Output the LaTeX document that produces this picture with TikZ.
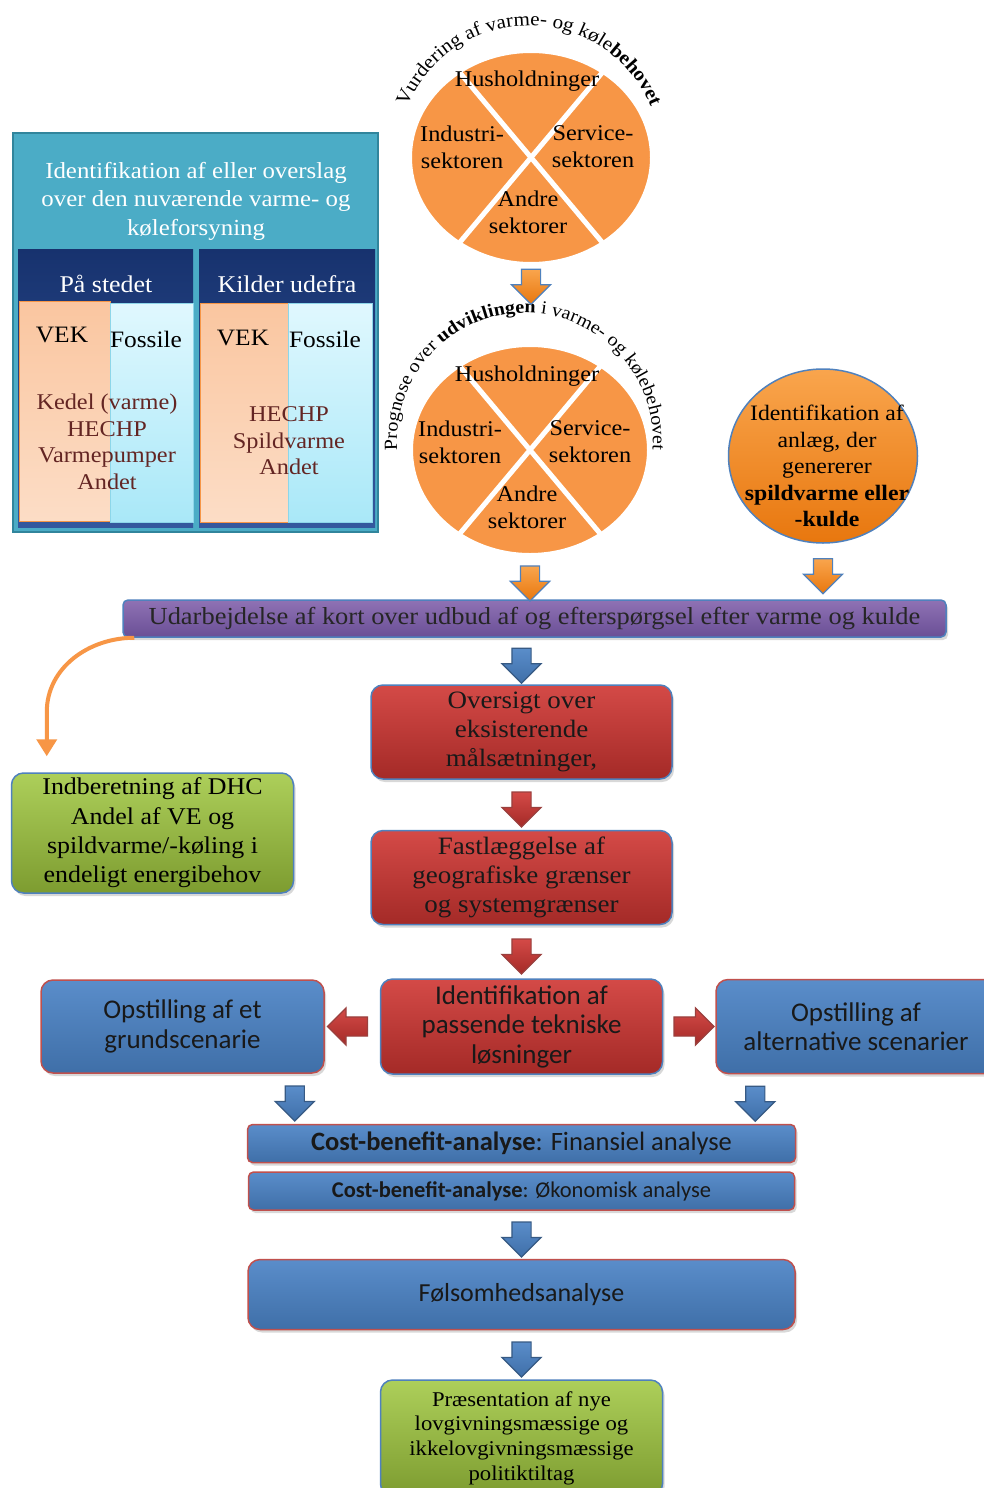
\documentclass[tikz,border=0pt]{standalone}
\usepackage{fontspec}
\setmainfont{Liberation Serif}[FakeStretch=1.08]
\newfontfamily\calibri{Carlito}
\usetikzlibrary{positioning, calc, shapes.geometric, shapes.arrows, decorations.text, shadows, arrows.meta}

\definecolor{tealpanel}{HTML}{4BACC6}
\definecolor{tealline}{HTML}{31859C}
\definecolor{navytop}{HTML}{17326E}
\definecolor{navybot}{HTML}{34589E}
\definecolor{peach}{HTML}{FAC6A0}
\definecolor{peachlight}{HTML}{FCDDC6}
\definecolor{icetop}{HTML}{E0F8FE}
\definecolor{icebot}{HTML}{A9E8F8}
\definecolor{sectororange}{HTML}{F79646}
\definecolor{wine}{HTML}{632523}
\definecolor{linkblue}{HTML}{4F81BD}
\definecolor{orangetop}{HTML}{F9A54D}
\definecolor{orangebot}{HTML}{E8770E}
\definecolor{purpletop}{HTML}{8F72B4}
\definecolor{purplebot}{HTML}{6A4F96}
\definecolor{redtop}{HTML}{D44A47}
\definecolor{redbot}{HTML}{A42A27}
\definecolor{redline}{HTML}{C0504D}
\definecolor{greentop}{HTML}{ADCF5A}
\definecolor{greenbot}{HTML}{7D9C30}
\definecolor{bluetop}{HTML}{5A8DCA}
\definecolor{bluebot}{HTML}{3F6FA8}

\newcommand{\ringfont}{\fontsize{19.5}{19.5}\selectfont}
\newcommand{\ringfontsmall}{\fontsize{18.5}{18.5}\selectfont}

\tikzset{
every node/.style={align=center, inner sep=0pt}, % nodes hug their text
panel/.style={rectangle, fill=tealpanel, draw=tealline, line width=2.5pt},
subpanel/.style={rectangle, top color=navytop, bottom color=navybot, minimum height=278pt},
vekcol/.style={rectangle, top color=peach, bottom color=peachlight, draw=sectororange, line width=1pt, minimum height=220pt},
fossilcol/.style={rectangle, top color=icetop, bottom color=icebot, draw=icebot!70!tealpanel, line width=1pt, minimum height=219pt},
paneltext/.style={text=white, font=\fontsize{23}{28.5}\selectfont},
headtext/.style={text=white, font=\fontsize{24}{28}\selectfont},
coltext/.style={font=\fontsize{23.5}{28}\selectfont},
listtext/.style={text=wine, font=\fontsize{22.5}{26.5}\selectfont},
sector/.style={ellipse, fill=sectororange, draw=white, line width=5pt}, % the two demand wheels
sectortext/.style={font=\fontsize{22.5}{27}\selectfont},
waste/.style={ellipse, top color=orangetop, bottom color=orangebot, draw=linkblue, line width=1.5pt},
wastetext/.style={font=\fontsize{22}{26.5}\selectfont},
flowbox/.style={rectangle, rounded corners=12pt, line width=1.5pt, drop shadow={opacity=0.3, shadow xshift=2pt, shadow yshift=-3pt}},
mapbar/.style={flowbox, rounded corners=5pt, draw=linkblue, top color=purpletop, bottom color=purplebot, text=black!85, font=\fontsize{24.5}{27}\selectfont},
redbox/.style={flowbox, draw=linkblue, top color=redtop, bottom color=redbot, text=black!90},
greenbox/.style={flowbox, draw=linkblue, top color=greentop, bottom color=greenbot},
bluebox/.style={flowbox, draw=redline, top color=bluetop, bottom color=bluebot, text=black!90},
serifbox/.style={font=\fontsize{25}{29}\selectfont},
sansbox/.style={font=\calibri\fontsize{27}{29.5}\selectfont},
downarrow/.style={single arrow, shape border rotate=270, minimum height=35pt, inner sep=9pt, single arrow head extend=10pt, line width=1.2pt},
orangedown/.style={downarrow, draw=linkblue, top color=orangetop, bottom color=orangebot},
bluedown/.style={downarrow, draw=linkblue!70!black, top color=bluetop, bottom color=bluebot},
reddown/.style={downarrow, draw=redline!80!black, top color=redtop, bottom color=redbot},
redside/.style={single arrow, minimum height=40pt, inner sep=9pt, single arrow head extend=9pt, line width=1.2pt, draw=redline!80!black, top color=redtop, bottom color=redbot},
redleft/.style={redside, shape border rotate=180},
bendarrow/.style={draw=sectororange, line width=4pt, -{Triangle[width=20pt, length=17pt]}},
}

\begin{document}
\begin{tikzpicture}[x=1pt, y=-1pt]
  \useasboundingbox (0,0) rectangle (984,1488);
  \fill[white] (0,0) rectangle (984,1488);

  % current supply
  \node[panel, minimum width=365pt, minimum height=399pt] (supply) at (195.5,332.5) {};
  \node[paneltext] (supplytitle) at (196,201) {Identifikation af eller overslag\\over den nuværende varme- og\\køleforsyning};
  \node[subpanel, minimum width=175pt] (onsite) at (105.5,388) {};
  \node[subpanel, minimum width=176pt] (external) at (287,388) {};
  \node[headtext] (onsitehead) at (106,284) {På stedet};
  \node[headtext] (externalhead) at (287,284) {Kilder udefra};
  \node[vekcol, minimum width=91pt] (onsitevek) at (64.5,411) {};
  \node[fossilcol, minimum width=83pt] (onsitefossil) at (151.5,412.5) {};
  \node[vekcol, minimum width=88pt, minimum height=219pt] (externalvek) at (244,412.5) {};
  \node[fossilcol, minimum width=84pt] (externalfossil) at (330,412.5) {};
  \node[coltext] (onsitevektext) at (62,335) {VEK};
  \node[coltext] (onsitefossiltext) at (146,339) {Fossile};
  \node[coltext] (externalvektext) at (243,338) {VEK};
  \node[coltext] (externalfossiltext) at (325,339) {Fossile};
  \node[listtext] (onsitelist) at (107,442) {Kedel (varme)\\HECHP\\Varmepumper\\Andet};
  \node[listtext] (externallist) at (289,441) {HECHP\\Spildvarme\\Andet};

  % demand wheels
  \node[sector, minimum width=243pt, minimum height=214pt] (demand) at (531,157.5) {};
  \draw[white, line width=5pt] (demand.130) -- (demand.310) (demand.50) -- (demand.230);
  \node[sectortext] (demandhome) at (527,81) {Husholdninger};
  \node[sectortext] (demandindustry) at (462,147) {Industri-\\sektoren};
  \node[sectortext] (demandservice) at (593,147) {Service-\\sektoren};
  \node[sectortext] (demandother) at (528,212) {Andre\\sektorer};
  \path[decorate, decoration={text along path, text align=center,
    text={|\ringfont|Vurdering af varme- og køle|\ringfont\bfseries|behovet}}]
    ([xshift=-2pt]demand.center) ++(166:132pt) arc[start angle=166, end angle=14, radius=132pt];

  \node[sector, minimum width=239pt, minimum height=211pt] (forecast) at (530,450) {};
  \draw[white, line width=5pt] (forecast.130) -- (forecast.310) (forecast.50) -- (forecast.230);
  \node[sectortext] (forecasthome) at (527,376) {Husholdninger};
  \node[sectortext] (forecastindustry) at (460,442) {Industri-\\sektoren};
  \node[sectortext] (forecastservice) at (590,442) {Service-\\sektoren};
  \node[sectortext] (forecastother) at (527,507) {Andre\\sektorer};
  \path[decorate, decoration={text along path, text align=center,
    text={|\ringfontsmall|Prognose over |\ringfontsmall\bfseries|udviklingen|\ringfontsmall| i varme- og kølebehovet}}]
    ([xshift=-5pt, yshift=9pt]forecast.center) ++(187:128pt) arc[start angle=187, end angle=-7, radius=128pt];

  \node[waste, minimum width=189pt, minimum height=174pt] (waste) at (823,456) {};
  \node[wastetext] (wastetext) at (827,466) {Identifikation af\\anlæg, der\\genererer\\\textbf{spildvarme eller}\\\textbf{-kulde}};

  % flow
  \node[mapbar, minimum width=823pt, minimum height=37pt] (heatmap) at (534.5,618.5) {Udarbejdelse af kort over udbud af og efterspørgsel efter varme og kulde};
  \node[greenbox, font=\fontsize{24}{29.3}\selectfont, minimum width=282pt, minimum height=120pt] (report) at (152.5,833) {Indberetning af DHC\\Andel af VE og\\spildvarme/-køling i\\endeligt energibehov};
  \node[redbox, serifbox, minimum width=301pt, minimum height=94pt] (targets) at (521.5,732) {Oversigt over\\eksisterende\\målsætninger,};
  \node[redbox, serifbox, minimum width=301pt, minimum height=94pt, below=50pt of targets] (borders) {Fastlæggelse af\\geografiske grænser\\og systemgrænser};
  \node[redbox, sansbox, minimum width=282pt, minimum height=95pt, below=53pt of borders] (tech) {Identifikation af\\passende tekniske\\løsninger};
  \node[bluebox, sansbox, minimum width=283pt, minimum height=93pt, left=55pt of tech] (base) {Opstilling af et\\grundscenarie};
  \node[bluebox, sansbox, minimum width=280pt, minimum height=94pt, right=52pt of tech] (alternative) {Opstilling af\\alternative scenarier};
  \node[bluebox, rounded corners=5pt, font=\calibri\fontsize{26.5}{28}\selectfont, minimum width=548pt, minimum height=38pt, below=49pt of tech] (financial) {\textbf{Cost-benefit-analyse}: Finansiel analyse};
  \node[bluebox, rounded corners=5pt, font=\calibri\fontsize{22.5}{24}\selectfont, minimum width=546pt, minimum height=38pt, below=8pt of financial] (economic) {\textbf{Cost-benefit-analyse}: Økonomisk analyse};
  \node[bluebox, font=\calibri\fontsize{26}{29}\selectfont, minimum width=547pt, minimum height=70pt, below=48pt of economic] (sensitivity) {Følsomhedsanalyse};
  \node[greenbox, font=\fontsize{21}{24.7}\selectfont, minimum width=282pt, minimum height=116pt, below=49pt of sensitivity] (policy) {Præsentation af nye\\lovgivningsmæssige og\\ikkelovgivningsmæssige\\politiktiltag};

  % block arrows
  \node[orangedown] (demandarrow) at (531,282) {};
  \path (forecast.south) -- (forecast.south |- heatmap.north) node[midway, orangedown] (forecastarrow) {};
  \path (waste.south) -- (waste.south |- heatmap.north) node[midway, orangedown] (wastearrow) {};
  \path (heatmap.south -| targets.north) -- (targets.north) node[midway, bluedown] (maparrow) {};
  \path (targets) -- (borders) node[midway, reddown] (targetsarrow) {};
  \path (borders) -- (tech) node[midway, reddown] (bordersarrow) {};
  \path (tech) -- (base) node[midway, redleft] (basearrow) {};
  \path (tech) -- (alternative) node[midway, redside] (alternativearrow) {};
  \path ([xshift=-30pt]base.south east) -- ([xshift=-30pt]base.south east |- financial.north) node[midway, bluedown] (basedown) {};
  \path ([xshift=40pt]alternative.south west) -- ([xshift=40pt]alternative.south west |- financial.north) node[midway, bluedown] (alternativedown) {};
  \path (economic) -- (sensitivity) node[midway, bluedown] (economicarrow) {};
  \path (sensitivity) -- (policy) node[midway, bluedown] (sensitivityarrow) {};

  \draw[bendarrow] ([xshift=12pt]heatmap.south west) to[out=180, in=90] ([xshift=36pt, yshift=60pt]report.north west) -- ([xshift=36pt, yshift=16pt]report.north west);
\end{tikzpicture}
\end{document}
